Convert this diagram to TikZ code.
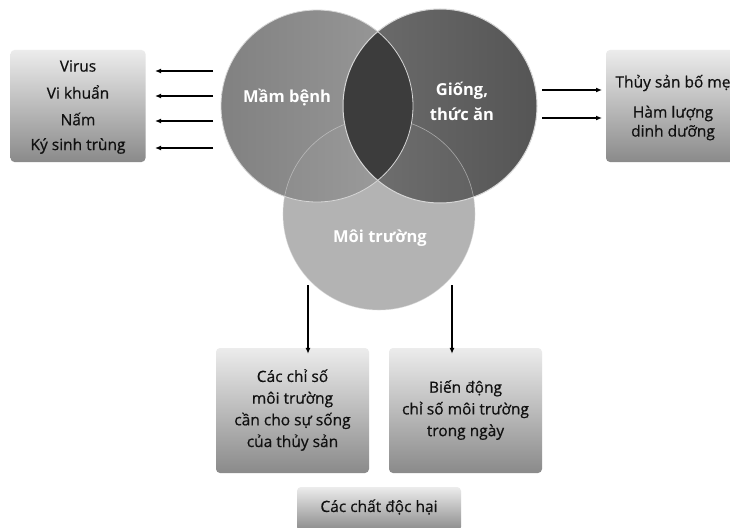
\documentclass[tikz,border=0pt]{standalone}
\usepackage{fontspec}
\setmainfont{Open Sans}
\newfontfamily\boxfont[FakeBold=0.6]{Open Sans}
\usetikzlibrary{arrows.meta}
\definecolor{boxtop}{HTML}{ECECEC}
\definecolor{boxbot}{HTML}{8A8A8A}
\definecolor{txt}{HTML}{111111}
\definecolor{cLa}{HTML}{818181}
\definecolor{cLb}{HTML}{9A9A9A}
\definecolor{cRa}{HTML}{6E6E6E}
\definecolor{cRb}{HTML}{555555}
\definecolor{cB}{HTML}{B3B3B3}
\definecolor{cLens}{HTML}{3C3C3C}
\definecolor{rim}{HTML}{D6D6D6}
\tikzset{
  gbox/.style={rounded corners=4pt, top color=boxtop, bottom color=boxbot, draw=none, inner sep=0pt},
  btxt/.style={text=txt, font=\boxfont\fontsize{15.5}{21.7}\selectfont, align=center, inner sep=0pt},
  ctxt/.style={text=white, font=\bfseries\fontsize{16.5}{25}\selectfont, align=center, inner sep=0pt},
  arr/.style={line width=1.3pt, -{Latex[length=6pt,width=5pt]}},
}
\begin{document}
\begin{tikzpicture}[x=1pt,y=-1pt]
\useasboundingbox (0,0) rectangle (730,527);
\fill[white] (0,0) rectangle (730,527);
% circles
\coordinate (cL) at (317,106);
\coordinate (cR) at (440,106);
\coordinate (cBo) at (379,214);
\fill[cB] (cBo) circle (96);
\shade[left color=cLa, right color=cLb] (cL) circle (96);
\shade[left color=cRa, right color=cRb] (cR) circle (97);
\begin{scope}
  \clip (cBo) circle (96);
  \fill[white, opacity=0.04] (cL) circle (96);
  \fill[white, opacity=0.03] (cR) circle (97);
\end{scope}
\draw[rim, line width=0.6pt, opacity=0.6] (cBo) circle (96);
\begin{scope}
  \clip (cL) circle (96);
  \fill[cLens] (cR) circle (97);
\end{scope}
\draw[rim, line width=0.8pt] (cL) circle (96);
\draw[rim, line width=1pt] (cR) circle (97);
\node[ctxt] (mb) at (287,98) {Mầm bệnh};
\node[ctxt] (gt) at (462,101) {Giống,\\thức ăn};
\node[ctxt] (mt) at (380,238) {Môi trường};
% left box
\node[gbox, minimum width=135pt, minimum height=112pt] (lbox) at (78,106) {};
\node[btxt] (t1) at (78,66) {Virus};
\node[btxt] (t2) at (78,92) {Vi khuẩn};
\node[btxt] (t3) at (78,119) {Nấm};
\node[btxt] (t4) at (78,146) {Ký sinh trùng};
\coordinate (a1s) at (213,71); \coordinate (a1e) at (155,71);
\coordinate (a2s) at (213,96); \coordinate (a2e) at (155,96);
\coordinate (a3s) at (213,121); \coordinate (a3e) at (155,121);
\coordinate (a4s) at (213,148); \coordinate (a4e) at (155,148);
\draw[arr] (a1s) -- (a1e);
\draw[arr] (a2s) -- (a2e);
\draw[arr] (a3s) -- (a3e);
\draw[arr] (a4s) -- (a4e);
% right box
\node[gbox, minimum width=136pt, minimum height=112pt] (rbox) at (674,106) {};
\node[btxt] (r1) at (673,83) {Thủy sản bố mẹ};
\node[btxt, font=\boxfont\fontsize{15.5}{19}\selectfont] (r2) at (673,123) {Hàm lượng\\dinh dưỡng};
\coordinate (b1s) at (542,90); \coordinate (b1e) at (602,90);
\coordinate (b2s) at (542,118); \coordinate (b2e) at (602,118);
\draw[arr] (b1s) -- (b1e);
\draw[arr] (b2s) -- (b2e);
% bottom boxes
\node[gbox, minimum width=153pt, minimum height=125pt] (bx1) at (292.5,410.5) {};
\node[btxt] (bt1) at (292.5,410) {Các chỉ số\\môi trường\\cần cho sự sống\\của thủy sản};
\node[gbox, minimum width=153pt, minimum height=125pt] (bx2) at (465.5,410.5) {};
\node[btxt] (bt2) at (465.5,410) {Biến động\\chỉ số môi trường\\trong ngày};
\node[gbox, minimum width=164pt, minimum height=44pt] (bx3) at (379,509) {};
\node[btxt] (bt3) at (379,507) {Các chất độc hại};
\coordinate (c1s) at (308,285);
\coordinate (c2s) at (452,285);
\draw[arr] (c1s) -- ([yshift=-6pt]c1s |- bx1.north);
\draw[arr] (c2s) -- ([yshift=-6pt]c2s |- bx2.north);
\end{tikzpicture}
\end{document}
